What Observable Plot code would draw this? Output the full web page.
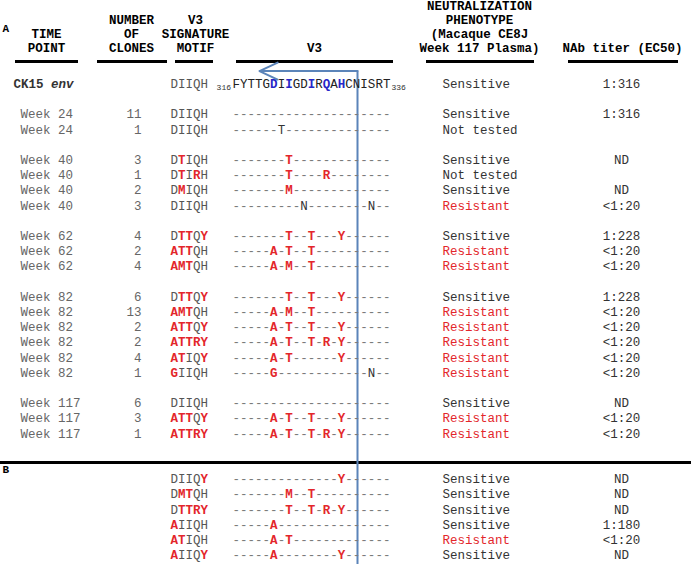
<!DOCTYPE html>
<html><head><meta charset="utf-8">
<script src="https://cdn.jsdelivr.net/npm/d3@7"></script>
<script src="https://cdn.jsdelivr.net/npm/@observablehq/plot@0.6"></script>
<style>body{margin:0;background:#fff}</style>
</head><body><div id="chart"></div>
<script>
// ---------- data ----------
const refLabel = "CK15";
const refLabelItalic = "env";
const refMotif = "DIIQH";
const refSequence = "FYTTGDIIGDIRQAHCNISRT";
const refStart = 316, refEnd = 336;
const refPhenotype = "Sensitive";
const refTiter = "1:316";
const motifPositions = [5, 7, 10, 12, 14];

const timePoints = ["Week 24","Week 24","Week 40","Week 40","Week 40","Week 40","Week 62","Week 62","Week 62","Week 82","Week 82","Week 82","Week 82","Week 82","Week 82","Week 117","Week 117","Week 117"];
const cloneCounts = [11,1,3,1,2,3,4,2,4,6,13,2,2,4,1,6,3,1];
const motifsA = ["DIIQH","DIIQH","DTIQH","DTIRH","DMIQH","DIIQH","DTTQY","ATTQH","AMTQH","DTTQY","AMTQH","ATTQY","ATTRY","ATIQY","GIIQH","DIIQH","ATTQY","ATTRY"];
const sequencesA = [
"---------------------",
"------T--------------",
"-------T-------------",
"-------T----R--------",
"-------M-------------",
"---------N--------N--",
"-------T--T---Y------",
"-----A-T--T----------",
"-----A-M--T----------",
"-------T--T---Y------",
"-----A-M--T----------",
"-----A-T--T---Y------",
"-----A-T--T-R-Y------",
"-----A-T------Y------",
"-----G------------N--",
"---------------------",
"-----A-T--T---Y------",
"-----A-T--T-R-Y------"];
const phenotypesA = ["Sensitive","Not tested","Sensitive","Not tested","Sensitive","Resistant","Sensitive","Resistant","Resistant","Sensitive","Resistant","Resistant","Resistant","Resistant","Resistant","Sensitive","Resistant","Resistant"];
const titersA = ["1:316","","ND","","ND","<1:20","1:228","<1:20","<1:20","1:228","<1:20","<1:20","<1:20","<1:20","<1:20","ND","<1:20","<1:20"];

const motifsB = ["DIIQY","DMTQH","DTTRY","AIIQH","ATIQH","AIIQY"];
const sequencesB = [
"--------------Y------",
"-------M--T----------",
"-------T--T-R-Y------",
"-----A---------------",
"-----A-T-------------",
"-----A--------Y------"];
const phenotypesB = ["Sensitive","Sensitive","Sensitive","Sensitive","Resistant","Sensitive"];
const titersB = ["ND","ND","ND","1:180","<1:20","ND"];

const columnHeaders = [["TIME","POINT"],["NUMBER","OF","CLONES"],["V3","SIGNATURE","MOTIF"],["V3"],["NEUTRALIZATION","PHENOTYPE","(Macaque CE8J","Week 117 Plasma)"],["NAb titer (EC50)"]];
const panelLabels = ["A","B"];

// ---------- layout / style ----------
const FONT = '"Courier New", "Liberation Mono", monospace';
const FS = 12.5;
const L = {
  rowY0: 83.5, rowStep: 15.2,
  headerBottom: -2.4, headerStep: 0.92,
  underline: -1.48, arrowRow: -0.85, bottomRow: 32,
  colCenters: [46, 131, 195, 314, 479, 622],
  colRules: [[15,78],[97,167],[175,213],[236,393],[426,534],[568,678]],
  refLabelX: 13, timeX: 20, clonesX: 141, motifX: 170, seqX: 232, charW: 7.52,
  phenoX: 442, titerX: 621, markerX: 357, arrowTipX: 259, panelX: 2,
  panelRowA: -3.65
};
const RED = "#e3262b", BLUE = "#2626c8", LINE = "#5b84b9";

// ---------- build rows ----------
let idx = 0, prev = "ref";
const rowsA = timePoints.map((t, i) => {
  idx += (t === prev) ? 1 : 2; prev = t;
  return {y: idx, time: t, clones: cloneCounts[i], motif: motifsA[i], seq: sequencesA[i], pheno: phenotypesA[i], titer: titersA[i]};
});
const lastA = idx;
const sepRow = lastA + 1.9;
const rowsB = motifsB.map((m, i) => ({y: lastA + 3 + i, motif: m, seq: sequencesB[i], pheno: phenotypesB[i], titer: titersB[i]}));
const allRows = [...rowsA, ...rowsB];

// per-character cells
const chars = [];
[...refSequence].forEach((c, i) => {
  const m = motifPositions.includes(i);
  chars.push({x: L.seqX + (i + 0.5) * L.charW, y: 0, c, fill: m ? BLUE : "#222", bold: m});
});
[...refMotif].forEach((c, i) => chars.push({x: L.motifX + (i + 0.5) * L.charW, y: 0, c, fill: "#555", bold: false}));
for (const r of allRows) {
  [...r.motif].forEach((c, i) => {
    const ch = c !== refMotif[i];
    chars.push({x: L.motifX + (i + 0.5) * L.charW, y: r.y, c, fill: ch ? RED : "#555", bold: ch});
  });
  [...r.seq].forEach((c, i) => {
    let fill = "#7a7a7a", bold = false;
    if (c !== "-") { const m = motifPositions.includes(i); fill = m ? RED : "#333"; bold = m; }
    chars.push({x: L.seqX + (i + 0.5) * L.charW, y: r.y, c, fill, bold});
  });
}

// headers
const headerCells = [];
columnHeaders.forEach((lines, j) => {
  const n = lines.length;
  lines.forEach((t, k) => headerCells.push({x: L.colCenters[j], y: L.headerBottom - (n - 1 - k) * L.headerStep, t}));
});
const panels = [{t: panelLabels[0], y: L.panelRowA}, {t: panelLabels[1], y: sepRow + 0.45}];

const base = {fontFamily: FONT, fontSize: FS};
const phenoRows = [{y: 0, pheno: refPhenotype, titer: refTiter}, ...allRows];

const chart = Plot.plot({
  width: 691, height: 564, margin: 0,
  x: {type: "linear", domain: [0, 691], range: [0, 691], axis: null},
  y: {type: "linear", domain: [0, 31], range: [L.rowY0, L.rowY0 + 31 * L.rowStep], axis: null},
  style: {background: "#fff"},
  marks: [
    Plot.ruleY(L.colRules, {y: L.underline, x1: d => d[0], x2: d => d[1], stroke: "#000", strokeWidth: 3.2}),
    Plot.ruleY([sepRow], {x1: 0, x2: 691, stroke: "#000", strokeWidth: 3}),
    Plot.ruleX([L.markerX], {y1: L.arrowRow, y2: L.bottomRow, stroke: LINE, strokeWidth: 2}),
    Plot.arrow([0], {x1: L.markerX, x2: L.arrowTipX, y1: L.arrowRow, y2: L.arrowRow, stroke: LINE, strokeWidth: 2, headLength: 15, headAngle: 50}),
    Plot.text(headerCells, {...base, x: "x", y: "y", text: "t", fontWeight: "bold", fill: "#000"}),
    Plot.text(panels, {...base, x: L.panelX, y: "y", text: "t", textAnchor: "start", fontWeight: "bold", fontSize: 11, fill: "#000"}),
    Plot.text([refLabel], {...base, x: L.refLabelX, y: 0, text: d => d, textAnchor: "start", fontWeight: "bold", fill: "#333"}),
    Plot.text([refLabelItalic], {...base, x: L.refLabelX + (refLabel.length + 1) * L.charW, y: 0, text: d => d, textAnchor: "start", fontWeight: "bold", fontStyle: "italic", fill: "#333"}),
    Plot.text([refStart], {...base, x: L.seqX - 1.5, y: 0, text: d => String(d), textAnchor: "end", fontSize: 8, dy: 3.5, fill: "#333"}),
    Plot.text([refEnd], {...base, x: L.seqX + refSequence.length * L.charW + 1, y: 0, text: d => String(d), textAnchor: "start", fontSize: 8, dy: 3.5, fill: "#333"}),
    Plot.text(rowsA, {...base, x: L.timeX, y: "y", text: "time", textAnchor: "start", fill: "#666"}),
    Plot.text(rowsA, {...base, x: L.clonesX, y: "y", text: d => String(d.clones), textAnchor: "end", fill: "#666"}),
    Plot.text(chars.filter(d => !d.bold), {...base, x: "x", y: "y", text: "c", fill: "fill"}),
    Plot.text(chars.filter(d => d.bold), {...base, x: "x", y: "y", text: "c", fill: "fill", fontWeight: "bold"}),
    Plot.text(phenoRows, {...base, x: L.phenoX, y: "y", text: "pheno", textAnchor: "start", fill: d => d.pheno === "Resistant" ? RED : "#333"}),
    Plot.text(phenoRows, {...base, x: L.titerX, y: "y", text: "titer", fill: "#333"})
  ]
});
document.getElementById("chart").appendChild(chart);
</script>
</body></html>
